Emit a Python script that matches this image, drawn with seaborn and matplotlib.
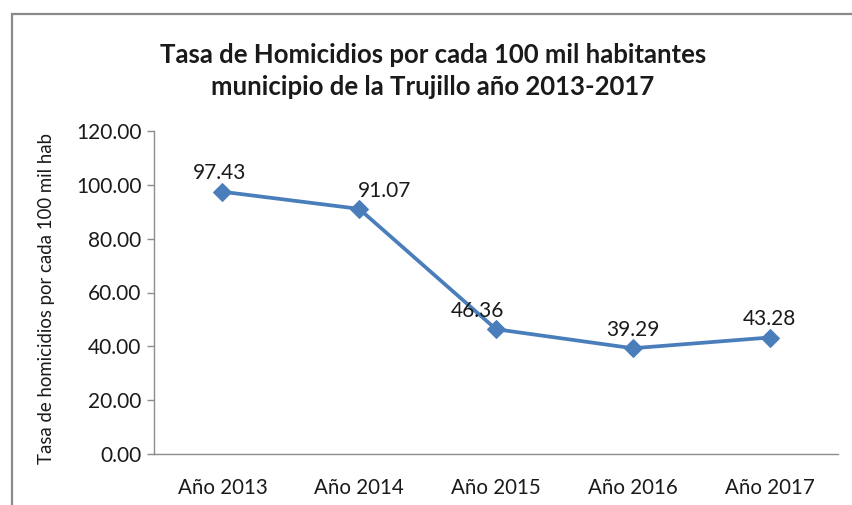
import matplotlib
matplotlib.use("Agg")
import matplotlib.pyplot as plt
import seaborn as sns
import pandas as pd
from matplotlib.patches import Rectangle

categories = ["Año 2013", "Año 2014", "Año 2015", "Año 2016", "Año 2017"]
values = [97.43, 91.07, 46.36, 39.29, 43.28]
yticks = [0, 20, 40, 60, 80, 100, 120]

title = "Tasa de Homicidios por cada 100 mil habitantes\nmunicipio de la Trujillo año 2013-2017"
ylabel = "Tasa de homicidios por cada 100 mil hab"

sns.set_theme(style="white")
plt.rcParams['font.family'] = ['Lato', 'DejaVu Sans']

df = pd.DataFrame({"cat": categories, "val": values})

fig = plt.figure(figsize=(8.53, 5.05), dpi=100)
ax = fig.add_axes([154/853, 1-454/505, (838-154)/853, (454-131)/505])

line_color = "#4A7EBB"
sns.lineplot(data=df, x="cat", y="val", ax=ax, color=line_color, linewidth=2.7,
             marker="D", markersize=9.5, markeredgecolor=line_color, sort=False)

ax.set_ylim(0, 120)
ax.set_xlim(-0.5, len(categories) - 0.5)
ax.set_yticks(yticks)
ax.set_yticklabels([f"{v:.2f}" for v in yticks])
ax.set_xlabel("")
ax.set_ylabel(ylabel, fontsize=13.4, color="#1a1a1a")
ax.yaxis.set_label_coords(-0.145, 0.48)

for s in ["top", "right"]:
    ax.spines[s].set_visible(False)
for s in ["left", "bottom"]:
    ax.spines[s].set_color("#8c8c8c")
    ax.spines[s].set_linewidth(1.0)

ax.tick_params(axis="y", which="both", left=True, length=5, width=1, color="#8c8c8c",
               labelsize=15, labelcolor="#1a1a1a", pad=4)
ax.tick_params(axis="x", bottom=False, labelsize=14.8, labelcolor="#1a1a1a", pad=11)

label_dx = [-2, 18, -13, 0, 0]
for i, v in enumerate(values):
    ax.annotate(f"{v:.2f}", (i, v), xytext=(label_dx[i], 6), textcoords="offset points",
                ha="center", va="bottom", fontsize=15, color="#1a1a1a")

fig.text(433/853, 1-71/505, title, ha="center", va="center", fontsize=18.5,
         fontweight="bold", color="#1a1a1a", linespacing=1.4)

border = Rectangle((12/853, -0.2), 1.2, 1 - 14/505 + 0.2, transform=fig.transFigure,
                   fill=False, edgecolor="#8a8a8a", linewidth=1.6, clip_on=False)
fig.patches.append(border)

fig.savefig("out.png", dpi=100)
